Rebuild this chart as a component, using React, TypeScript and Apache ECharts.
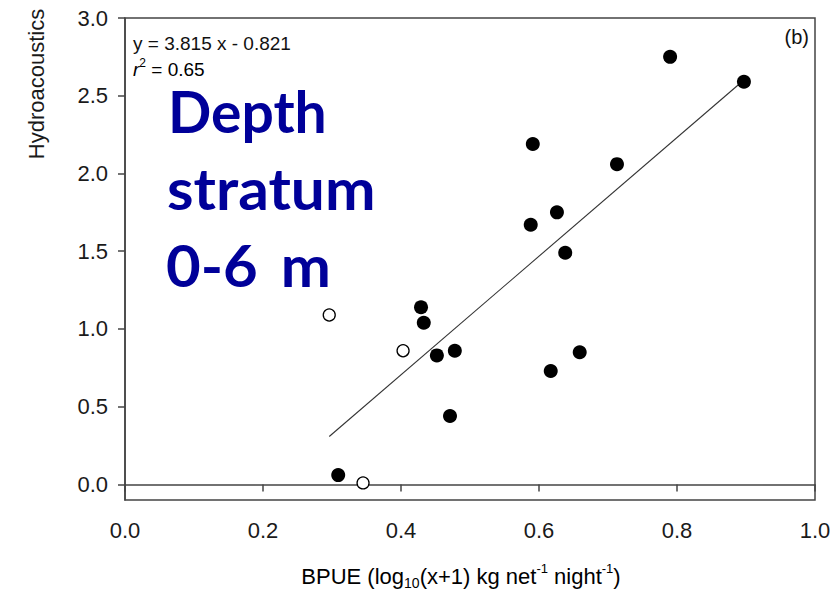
import React, { useEffect, useRef } from "react";
import * as echarts from "echarts";

const filledX = [0.790, 0.897, 0.591, 0.713, 0.626, 0.588, 0.638, 0.429, 0.433, 0.452, 0.478, 0.471, 0.617, 0.659, 0.309];
const filledY = [2.75, 2.59, 2.19, 2.06, 1.75, 1.67, 1.49, 1.14, 1.04, 0.83, 0.86, 0.44, 0.73, 0.85, 0.06];
const openX = [0.296, 0.403, 0.345];
const openY = [1.09, 0.86, 0.01];
const slope = 3.815;
const intercept = -0.821;
const fitRange = [0.296, 0.897];
const yTicks = [0, 0.5, 1.0, 1.5, 2.0, 2.5, 3.0];

export default function App() {
  const ref = useRef<HTMLDivElement>(null);
  useEffect(() => {
    if (!ref.current) return;
    const chart = echarts.init(ref.current, null, { renderer: "svg" });
    const font = "'Liberation Sans', Arial, sans-serif";
    const bigFont = "Lato, 'Open Sans', sans-serif";
    const navy = "#000099";
    const fit = fitRange.map((x) => [x, slope * x + intercept]);
    const axisColor = "#444";
    const big = { fontFamily: bigFont, fontWeight: "bold", fontSize: 57, fill: navy, color: navy };
    chart.setOption({
      animation: false,
      backgroundColor: "#ffffff",
      grid: {
        left: 125,
        top: 18,
        right: 23,
        bottom: 94,
        show: true,
        borderColor: axisColor,
        borderWidth: 1.5,
        backgroundColor: "transparent",
      },
      xAxis: {
        type: "value",
        min: 0,
        max: 1,
        interval: 0.2,
        splitLine: { show: false },
        axisLine: { show: true, lineStyle: { color: axisColor, width: 1.5 } },
        axisTick: { show: true, inside: false, length: 7, lineStyle: { color: axisColor, width: 1.5 } },
        axisLabel: {
          color: "#1a1a1a",
          fontSize: 22,
          fontFamily: font,
          margin: 19,
          formatter: (v: number) => v.toFixed(1),
        },
      },
      yAxis: {
        type: "value",
        min: -0.1,
        max: 3.0,
        splitLine: { show: false },
        axisLine: { show: true, lineStyle: { color: axisColor, width: 1.5 } },
        axisTick: {
          show: true,
          inside: false,
          length: 7,
          customValues: yTicks,
          lineStyle: { color: axisColor, width: 1.5 },
        },
        axisLabel: {
          color: "#1a1a1a",
          fontSize: 22,
          fontFamily: font,
          margin: 17,
          customValues: yTicks,
          formatter: (v: number) => v.toFixed(1),
        },
      },
      series: [
        {
          type: "line",
          data: fit,
          showSymbol: false,
          symbol: "none",
          lineStyle: { color: "#333", width: 1.1 },
          silent: true,
          z: 1,
        },
        {
          type: "scatter",
          data: filledX.map((x, i) => [x, filledY[i]]),
          symbol: "circle",
          symbolSize: 14,
          itemStyle: { color: "#000", opacity: 1 },
          z: 3,
        },
        {
          type: "scatter",
          data: openX.map((x, i) => [x, openY[i]]),
          symbol: "circle",
          symbolSize: 12,
          itemStyle: { color: "#fff", borderColor: "#000", borderWidth: 1.3, opacity: 1 },
          z: 3,
        },
      ],
      graphic: [
        {
          type: "text",
          x: 133,
          y: 43,
          style: {
            text: "y = 3.815 x - 0.821",
            fontFamily: font,
            fontSize: 19,
            fill: "#111",
            align: "left",
            verticalAlign: "middle",
          },
        },
        {
          type: "text",
          x: 133,
          y: 69,
          style: {
            text: "{i|r}{s|2}{n| = 0.65}",
            align: "left",
            verticalAlign: "middle",
            rich: {
              i: { fontFamily: font, fontSize: 19, fontStyle: "italic", color: "#111", lineHeight: 24 },
              s: { fontFamily: font, fontSize: 12, verticalAlign: "top", color: "#111", lineHeight: 12 },
              n: { fontFamily: font, fontSize: 19, color: "#111", lineHeight: 24 },
            },
          },
        },
        {
          type: "text",
          x: 809,
          y: 37,
          style: {
            text: "(b)",
            fontFamily: font,
            fontSize: 20,
            fill: "#111",
            align: "right",
            verticalAlign: "middle",
          },
        },
        {
          type: "text",
          x: 168,
          y: 111,
          style: { text: "Depth", ...big, align: "left", verticalAlign: "middle" },
        },
        {
          type: "text",
          x: 167,
          y: 188,
          scaleX: 1.06,
          style: { text: "stratum", ...big, align: "left", verticalAlign: "middle" },
        },
        {
          type: "text",
          x: 166,
          y: 265,
          scaleX: 1.05,
          style: {
            text: "{a|0-6}{b| m}",
            fill: navy,
            align: "left",
            verticalAlign: "middle",
            rich: {
              a: { ...big },
              b: { ...big, padding: [0, 0, 0, 8] },
            },
          },
        },
        {
          type: "text",
          x: 36,
          y: 84,
          rotation: Math.PI / 2,
          style: {
            text: "Hydroacoustics",
            fontFamily: font,
            fontSize: 22,
            fill: "#1a1a1a",
            align: "center",
            verticalAlign: "middle",
          },
        },
        {
          type: "text",
          x: 461,
          y: 576,
          style: {
            text: "{n|BPUE (log}{b|10}{n|(x+1) kg net}{p|-1}{n| night}{p|-1}{n|)}",
            align: "center",
            verticalAlign: "middle",
            rich: {
              n: { fontFamily: font, fontSize: 22, color: "#1a1a1a", lineHeight: 28 },
              b: { fontFamily: font, fontSize: 14, verticalAlign: "bottom", color: "#1a1a1a", lineHeight: 14 },
              p: { fontFamily: font, fontSize: 13, verticalAlign: "top", color: "#1a1a1a", lineHeight: 13 },
            },
          },
        },
      ],
    });
    return () => chart.dispose();
  }, []);
  return <div ref={ref} style={{ position: "absolute", left: 0, top: 0, width: 838, height: 594 }} />;
}
